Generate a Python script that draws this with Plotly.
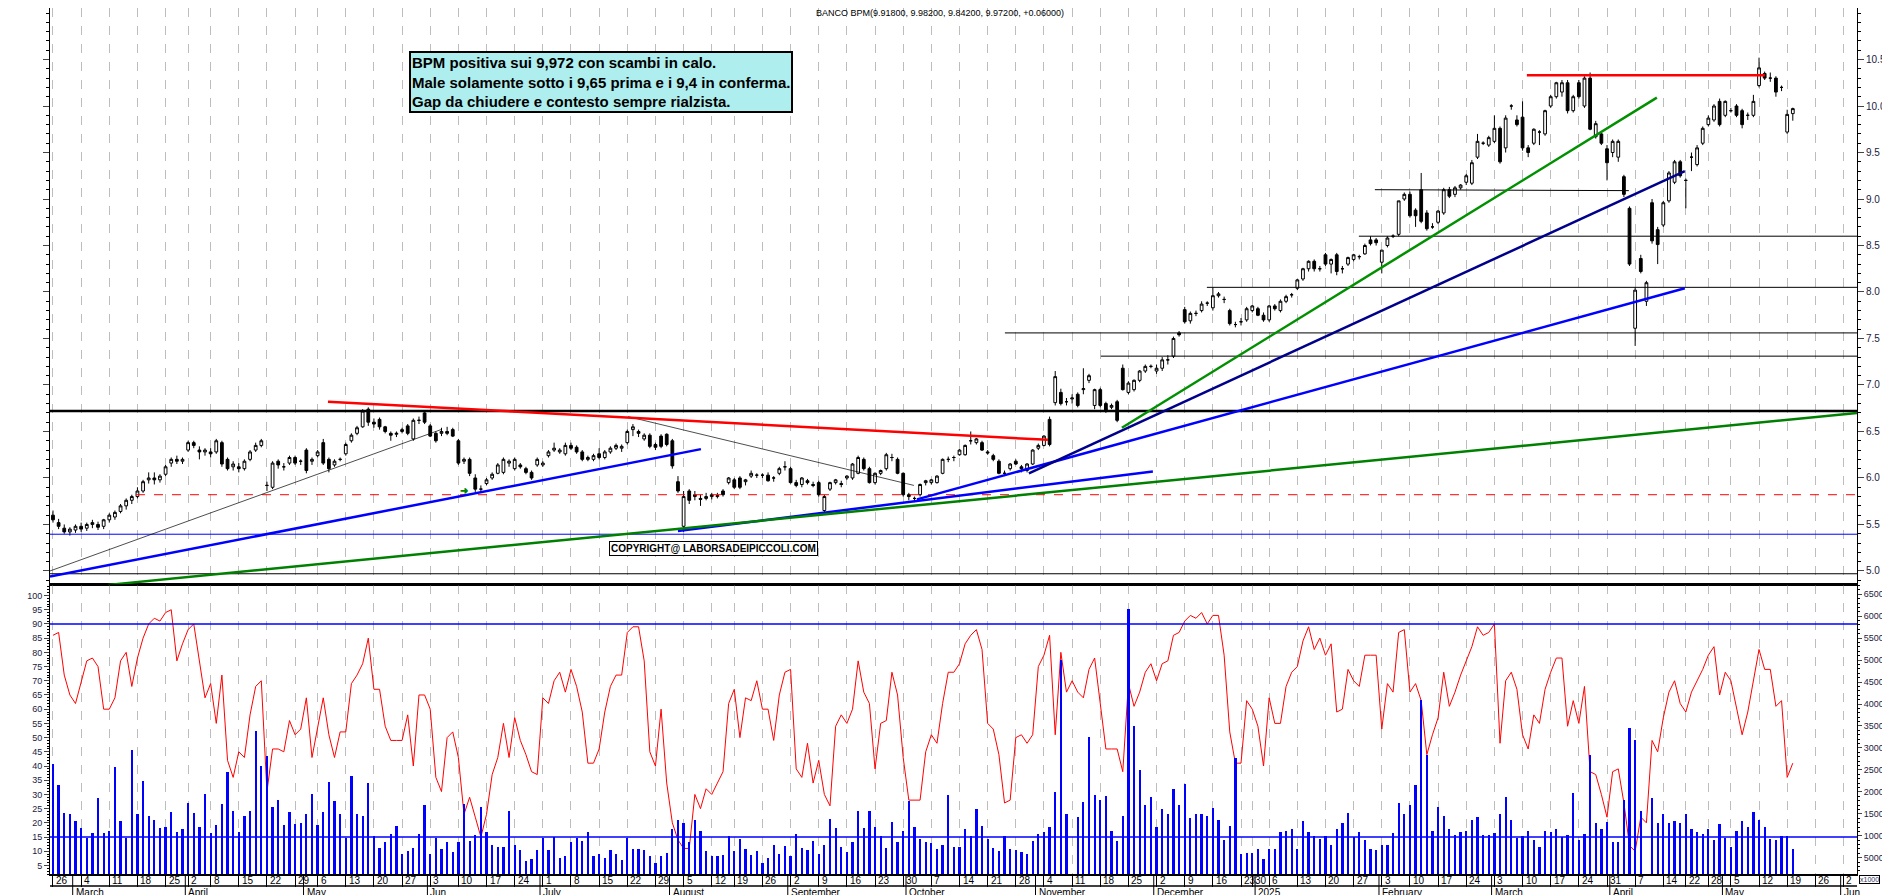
import pandas as pd
import plotly.graph_objects as go

# ---------------- DATA ----------------
opens = [
 5.60,5.52,5.46,5.42,5.44, 5.48,5.46,5.50,5.50,5.48, 5.55,5.58,5.64,5.70,5.76, 5.80,5.86,5.98,6.00,5.98,
 6.04,6.16,6.20,6.18, 6.30,6.38,6.30,6.28, 6.28,6.28,6.38,6.20,6.12, 6.12,6.10,6.20,6.30,6.35,
 5.92,5.90,6.18,6.12,6.16, 6.22,6.18,6.30,6.18, 6.24,6.38,6.20,6.14,6.20, 6.26,6.40,6.48,6.55,6.74,
 6.60,6.63,6.55,6.48,6.47, 6.50,6.56,6.42,6.62,6.70, 6.56,6.48,6.48,6.50,6.52, 6.40,6.18,6.20,6.00,5.88,
 5.94,6.00,6.05,6.06,6.16, 6.10,6.14,6.10,6.06,6.14, 6.14,6.24,6.30,6.28,6.26, 6.35,6.33,6.28,6.20,6.20,
 6.26,6.22,6.28,6.32,6.32, 6.38,6.52,6.50,6.42,6.46, 6.36,6.45,6.47,6.40,5.96, 5.48,5.86,5.80,5.78,5.78,
 5.80,5.80,5.86,5.95, 5.98,6.00,5.96,6.02,6.03, 6.03,6.03,6.00,6.05,6.12, 6.10,5.95,5.93,5.97,5.93,
 5.95,5.65,5.88,5.95,5.94, 6.00,6.00,6.05,6.20,6.10, 5.95,6.05,6.10,6.22,6.20, 6.05,5.82,5.78,5.82,5.95,
 5.95,5.95,6.05,6.20,6.22, 6.25,6.25,6.40,6.38,6.38, 6.28,6.24,6.18,6.05,6.10, 6.18,6.12,6.08,6.15,6.32,
 6.35,6.63,6.81,6.92,6.82, 6.85,6.90,6.95,7.05,6.78, 6.95,6.80,6.76,6.82,7.18, 6.92,6.95,7.05,7.15,7.20,
 7.15, 7.18,7.27,7.31,7.56,7.81, 7.69,7.77,7.80,7.88,7.83, 7.96,7.92,7.80,7.65,7.68, 7.70,7.80,7.82,7.75,7.70,
 7.85,7.80,7.90,7.97,8.04, 8.14,8.25,8.33,8.25,8.40, 8.30,8.40,8.25,8.30,8.35, 8.38,8.41,8.56,8.56,8.32,
 8.50,8.60,8.62,9.00,9.05, 8.88,9.10,8.85,8.70,8.75, 8.85,9.10,9.05,9.12,9.18, 9.17,9.45,9.60,9.58,9.62,
 9.76,9.55,10.00,9.85,9.88, 9.55,9.60,9.72,9.70,10.00, 10.10,10.15,10.25,9.95,10.25, 10.00,10.30,9.67,9.70,9.54,
 9.50,9.45,9.24,8.90,7.61, 8.36,7.90,8.96,8.67,8.72, 8.98,9.18,9.40,9.20,9.45, 9.37,9.60,9.80,9.85,10.05,
 9.90,9.95,10.00,9.95,9.90, 9.90,10.22,10.35,10.30,10.30, 10.20,9.72,9.918]
highs = [
 5.65,5.56,5.50,5.47,5.50, 5.52,5.52,5.55,5.53,5.56, 5.62,5.65,5.72,5.78,5.82, 5.90,5.98,6.06,6.06,6.04,
 6.14,6.22,6.24,6.22, 6.40,6.40,6.34,6.32, 6.32,6.42,6.40,6.22,6.18, 6.16,6.20,6.30,6.38,6.42,
 5.96,6.18,6.20,6.16,6.24, 6.24,6.20,6.32,6.22, 6.30,6.42,6.22,6.20,6.22, 6.38,6.48,6.56,6.74,6.76,
 6.64,6.65,6.56,6.50,6.50, 6.54,6.58,6.64,6.66,6.72, 6.58,6.50,6.54,6.55,6.54, 6.42,6.22,6.22,6.04,5.92,
 6.00,6.06,6.16,6.22,6.20, 6.22,6.16,6.12,6.08,6.22, 6.18,6.30,6.38,6.32,6.38, 6.38,6.35,6.30,6.24,6.26,
 6.32,6.30,6.34,6.37,6.36, 6.52,6.58,6.52,6.48,6.48, 6.38,6.47,6.48,6.42,6.02, 5.86,5.88,5.86,5.82,5.84,
 5.84,5.84,5.88,6.01, 6.00,6.02,5.99,6.08,6.05, 6.05,6.06,6.02,6.12,6.18, 6.12,5.98,6.01,5.99,5.96,
 5.97,5.82,5.96,5.99,5.97, 6.03,6.16,6.24,6.22,6.12, 6.06,6.09,6.27,6.26,6.22, 6.06,5.84,5.80,5.94,5.98,
 5.99,6.03,6.21,6.23,6.24, 6.31,6.36,6.50,6.43,6.40, 6.30,6.26,6.20,6.08,6.16, 6.20,6.14,6.16,6.31,6.37,
 6.46,6.66,7.15,6.96,6.86, 6.90,6.92,7.18,7.12,6.96, 6.97,6.82,6.80,6.84,7.22, 7.04,7.06,7.16,7.22,7.22,
 7.22, 7.30,7.32,7.52,7.58,7.84, 7.79,7.80,7.90,7.90,8.05, 8.00,7.95,7.82,7.68,7.72, 7.84,7.86,7.84,7.78,7.86,
 7.87,7.92,7.97,7.99,8.14, 8.26,8.34,8.35,8.28,8.42, 8.36,8.42,8.28,8.38,8.41, 8.40,8.52,8.60,8.58,8.45,
 8.60,8.62,8.98,9.07,9.08, 8.90,9.28,8.88,8.74,8.88, 9.12,9.13,9.14,9.16,9.27, 9.42,9.70,9.62,9.68,9.90,
 9.78,9.90,10.02,9.90,10.05, 9.58,9.76,9.74,9.96,10.12, 10.26,10.28,10.28,10.12,10.28, 10.32,10.36,9.84,9.72,9.58,
 9.64,9.64,9.26,8.92,8.05, 8.40,8.12,9.00,8.70,8.98, 9.30,9.42,9.42,9.22,9.50, 9.58,9.78,9.90,10.02,10.08,
 10.06,9.98,10.02,9.97,9.93, 10.12,10.52,10.37,10.36,10.32, 10.22,9.96,9.982]
lows = [
 5.52,5.45,5.40,5.38,5.41, 5.42,5.43,5.46,5.44,5.45, 5.52,5.55,5.62,5.66,5.72, 5.78,5.84,5.94,5.93,5.95,
 6.02,6.12,6.15,6.15, 6.28,6.32,6.20,6.24, 6.22,6.26,6.12,6.08,6.08, 6.06,6.08,6.18,6.28,6.33,
 5.86,5.88,6.10,6.08,6.14, 6.14,6.14,6.05,6.14, 6.22,6.14,6.06,6.12,6.18, 6.24,6.38,6.46,6.54,6.56,
 6.54,6.52,6.48,6.40,6.44, 6.48,6.46,6.40,6.58,6.58, 6.44,6.38,6.45,6.46,6.44, 6.14,6.15,6.02,5.85,5.84,
 5.92,5.98,6.04,6.04,6.12, 6.08,6.10,6.04,5.98,6.12, 6.12,6.22,6.28,6.26,6.24, 6.30,6.26,6.18,6.18,6.18,
 6.20,6.20,6.26,6.30,6.28, 6.36,6.45,6.44,6.40,6.32, 6.30,6.32,6.34,6.10,5.84, 5.42,5.72,5.76,5.70,5.76,
 5.77,5.78,5.80,5.93, 5.88,5.88,5.92,6.00,6.00, 6.00,5.96,5.96,6.03,6.08, 5.94,5.90,5.90,5.93,5.90,
 5.80,5.62,5.86,5.93,5.90, 5.98,5.98,6.04,6.08,5.94, 5.93,6.03,6.08,6.18,6.04, 5.80,5.76,5.74,5.80,5.92,
 5.93,5.94,6.04,6.17,6.18, 6.24,6.24,6.36,6.36,6.29, 6.25,6.18,6.04,6.02,6.08, 6.14,6.06,6.06,6.14,6.30,
 6.34,6.34,6.78,6.78,6.78, 6.80,6.76,6.90,7.02,6.74, 6.76,6.70,6.74,6.60,6.94, 6.90,6.93,7.03,7.13,7.18,
 7.12, 7.15,7.22,7.29,7.52,7.66, 7.66,7.74,7.78,7.85,7.80, 7.94,7.88,7.64,7.62,7.64, 7.68,7.78,7.74,7.68,7.68,
 7.80,7.78,7.88,7.94,8.02, 8.12,8.22,8.22,8.22,8.28, 8.20,8.18,8.20,8.28,8.33, 8.35,8.40,8.50,8.50,8.20,
 8.48,8.58,8.60,8.98,8.80, 8.70,8.74,8.66,8.68,8.73, 8.83,9.01,9.02,9.10,9.15, 9.15,9.43,9.58,9.56,9.60,
 9.38,9.50,9.96,9.78,9.52, 9.45,9.58,9.58,9.68,9.98, 10.08,10.10,9.92,9.93,10.08, 9.98,9.74,9.65,9.58,9.20,
 9.45,9.40,9.02,8.28,7.42, 8.20,7.85,8.52,8.30,8.70, 8.96,9.16,9.23,8.90,9.30, 9.35,9.58,9.78,9.83,9.78,
 9.88,9.93,9.88,9.76,9.85, 9.88,10.20,10.28,10.26,10.10, 10.16,9.70,9.842]
closes = [
 5.55,5.48,5.42,5.45,5.48, 5.45,5.50,5.52,5.47,5.55, 5.60,5.63,5.70,5.76,5.80, 5.86,5.96,6.00,5.98,6.02,
 6.12,6.20,6.18,6.20, 6.38,6.35,6.28,6.30, 6.26,6.40,6.15,6.10,6.15, 6.10,6.18,6.28,6.35,6.40,
 5.92,6.16,6.14,6.12,6.22, 6.16,6.18,6.08,6.20, 6.28,6.16,6.10,6.18,6.20, 6.36,6.46,6.54,6.72,6.60,
 6.58,6.55,6.50,6.46,6.48, 6.52,6.48,6.62,6.62,6.60, 6.45,6.40,6.50,6.48,6.45, 6.16,6.20,6.05,5.88,5.88,
 5.98,6.04,6.14,6.20,6.18, 6.20,6.12,6.06,6.00,6.20, 6.16,6.28,6.32,6.30,6.35, 6.32,6.28,6.20,6.22,6.24,
 6.22,6.28,6.32,6.35,6.34, 6.50,6.55,6.48,6.46,6.34, 6.33,6.34,6.36,6.13,5.86, 5.80,5.76,5.82,5.77,5.80,
 5.82,5.81,5.82,6.00, 5.90,5.90,5.98,6.05,6.03, 6.03,5.97,6.00,6.10,6.12, 5.95,5.92,6.00,5.95,5.92,
 5.82,5.80,5.95,5.98,5.93, 6.02,6.15,6.22,6.10,5.95, 6.05,6.08,6.25,6.22,6.05, 5.82,5.80,5.78,5.93,5.97,
 5.98,6.02,6.20,6.20,6.22, 6.30,6.35,6.40,6.42,6.30, 6.27,6.20,6.05,6.05,6.15, 6.15,6.10,6.15,6.30,6.35,
 6.45,6.36,7.09,6.80,6.82, 6.86,6.78,6.96,7.10,6.95, 6.78,6.73,6.78,6.62,6.95, 7.02,7.05,7.15,7.20,7.20,
 7.18, 7.27,7.27,7.50,7.54,7.68, 7.77,7.77,7.87,7.88,7.96, 7.98,7.92,7.66,7.65,7.68, 7.82,7.85,7.75,7.70,7.85,
 7.82,7.90,7.95,7.97,8.13, 8.25,8.33,8.25,8.25,8.30, 8.35,8.22,8.25,8.37,8.40, 8.38,8.50,8.52,8.53,8.45,
 8.58,8.60,8.98,9.05,8.82, 8.82,8.76,8.68,8.70,8.87, 9.10,9.03,9.12,9.15,9.25, 9.39,9.62,9.60,9.66,9.76,
 9.40,9.87,10.00,9.80,9.55, 9.50,9.75,9.72,9.95,10.10, 10.25,10.25,9.95,10.10,10.10, 10.30,9.75,9.81,9.60,9.39,
 9.62,9.62,9.05,8.30,8.02, 8.22,8.10,8.55,8.51,8.96, 9.28,9.40,9.25,9.20,9.45, 9.55,9.76,9.87,10.00,9.80,
 10.05,9.95,9.90,9.80,9.90, 10.05,10.41,10.30,10.30,10.15, 10.20,9.91,9.972]

# oscillator (left scale 0-100)
oscillator = [
 86,87,72,65,62,70,77,78,75,60, 60,64,77,80,68,78,85,90,92,91, 94,95,77,83,88,90,77,64,69,55,
 72,42,36,45,43,58,68,70,31,46, 46,45,56,51,53,64,43,54,64,51, 43,52,52,69,72,76,85,67,67,54,
 49,49,49,58,40,65,65,60,36,31, 50,52,43,23,29,22,15,23,37,43, 55,43,57,49,44,38,37,64,62,70,
 73,66,74,68,59,41,41,46,59,68, 72,72,87,89,89,77,45,40,60,34, 20,14,11,11,30,25,32,30,34,38,
 62,67,50,64,63,70,60,60,49,65, 73,74,39,36,48,34,42,30,26,54, 58,55,60,77,66,62,39,55,56,73,
 65,43,28,28,28,45,51,48,62,73, 73,76,83,86,88,81,55,53,44,27, 28,50,51,48,51,75,79,86,51,80,
 66,70,66,64,74,78,62,46,46,46, 38,69,61,66,73,76,70,76,77,86, 87,91,93,92,94,90,93,93,79,52,
 41,41,63,60,54,40,64,55,55,68, 73,75,84,89,81,85,79,83,59,60, 74,70,68,79,79,79,53,69,66,87,
 88,66,69,63,44,51,57,73,61,66, 72,77,82,89,86,87,90,48,70,73, 67,51,46,58,55,67,73,78,78,54,
 63,55,68,38,37,30,22,38,39,27, 12,10,22,20,49,45,57,66,70,62, 59,66,70,74,79,82,65,73,70,61,
 51,59,70,81,74,74,61,63,36,41]

# volume, millions of shares (axis shown x1000 in thousands)
volume = [
 26.3,21.5,15.3,15.0,13.3,11.7,9.4,10.7,18.5,10.7, 11.0,25.7,13.3,9.4,29.6,15.0,22.4,14.6,13.7,
 11.8,12.1,15.4,10.9,11.6,17.5,15.2,12.0,19.6,10.6, 12.4,17.3,24.5,15.6,10.8,14.5,15.6,33.8,26.0,28.2,
 16.5,18.2,12.4,15.4,12.6,13.0,14.9,19.6,12.4,15.5, 22.3,18.0,14.9,9.6,23.7,15.0,14.5,22.0,10.0,7.3,
 8.6,10.3,12.3,5.8,6.5,7.2,10.3,16.9,5.8,9.5, 6.9,8.6,6.3,8.6,17.2,8.9,10.2,16.5,10.9,7.8,
 7.4,7.4,15.6,7.8,6.8,4.2,4.7,6.7,9.6,6.7, 9.7,5.0,5.5,8.5,9.6,8.8,10.9,5.5,5.9,5.0,
 6.7,5.9,4.4,9.6,6.9,7.0,6.7,5.4,3.8,5.5, 6.1,11.6,13.7,12.8,8.5,13.7,11.1,6.5,5.4,5.5,
 5.7,10.0,6.5,9.3,7.0,5.7,6.5,3.9,5.0,7.8, 5.8,7.7,5.5,10.5,7.3,6.7,8.9,5.9,8.0,13.9,
 11.8,7.4,6.3,8.6,15.6,11.8,15.7,12.1,9.9,7.3, 13.2,8.7,11.2,17.9,12.1,9.3,8.6,8.4,7.1,7.8,
 19.4,7.4,7.4,11.6,10.0,16.1,12.2,9.3,7.3,6.5, 10.0,
 7.1,6.7,6.3,5.9,8.8,10.5,10.9,12.0,20.0,50.1, 15.0,1.0,14.3,17.8,32.6,19.4,18.2,19.0,11.1,8.8,
 14.5,61.6,35.0,24.9,16.9,18.8,12.1,16.2,15.0,20.7, 16.9,21.9,14.0,14.9,14.9,14.6,16.4,13.7,9.1,12.2,
 27.6,5.8,6.1,6.1,6.9,4.8,7.1,6.9,10.9,11.2, 11.6,6.9,13.3,10.9,10.0,9.3,10.0,7.8,11.5,12.9,
 15.3,9.7,10.9,9.1,7.1,6.7,7.8,7.8,10.7,17.5, 15.0,16.9,21.5,41.0,28.3,11.2,16.5,14.6,11.6,10.1,
 10.9,11.2,13.5,14.3,10.1,10.1,10.7,15.0,18.8,13.7, 9.5,10.0,11.1,9.0,7.4,11.1,10.9,11.6,9.7,10.1,
 19.8,9.0,10.3,28.5,12.8,11.6,13.1,8.6,8.7,18.2, 34.6,31.7,15.6,1.0,18.6,13.0,15.0,12.9,13.4,12.8,
 15.0,11.6,10.9,10.3,11.6,9.1,12.6,9.6,7.4,11.1, 13.3,12.1,15.4,13.7,12.0,9.3,9.0,10.0,10.0,6.9]

price_ticks = [5.0, 5.5, 6.0, 6.5, 7.0, 7.5, 8.0, 8.5, 9.0, 9.5, 10.0, 10.5]
osc_ticks = list(range(5, 101, 5))
vol_ticks = list(range(5, 66, 5))
vol_tick_text = [f"{v*1000}" for v in vol_ticks]

holidays = ['2024-03-29', '2024-04-01', '2024-05-01', '2024-08-15', '2024-12-24', '2024-12-25',
            '2024-12-26', '2024-12-31', '2025-01-01', '2025-04-18', '2025-04-21', '2025-05-01']
month_names = {1: "2025", 2: "February", 3: "March", 4: "April", 5: "May", 6: "Jun", 7: "July",
               8: "August", 9: "September", 10: "October", 11: "November", 12: "December"}

title_text = "BANCO BPM(9.91800, 9.98200, 9.84200, 9.97200, +0.06000)"
box_text = ("<b>BPM positiva sui 9,972 con scambi in calo.<br>"
            "Male solamente sotto i 9,65 prima e i 9,4 in conferma.<br>"
            "Gap da chiudere e contesto sempre rialzista.</b>")

# ---------------- BUILD ----------------
days = [d for d in pd.bdate_range('2024-02-26', '2025-06-06') if d.strftime('%Y-%m-%d') not in holidays]
XMIN, XMAX = -0.53, 320.4
n = len(closes)
xi = list(range(n))

PH = 866  # plot area height in px
SPLIT = (PH - 577) / PH
FONT = "Liberation Sans, Arial, sans-serif"
fig = go.Figure()

fig.add_trace(go.Candlestick(
    x=xi, open=opens, high=highs, low=lows, close=closes,
    increasing=dict(fillcolor="white", line=dict(color="black", width=1)),
    decreasing=dict(fillcolor="black", line=dict(color="black", width=1)),
    whiskerwidth=0, xaxis="x", yaxis="y", showlegend=False, hoverinfo="skip"))

fig.add_trace(go.Bar(x=list(range(len(volume))), y=volume, marker_color="#0000FF",
                     marker_line_width=0, width=0.4, xaxis="x2", yaxis="y3",
                     showlegend=False, hoverinfo="skip"))
fig.add_trace(go.Scatter(x=list(range(len(oscillator))), y=oscillator, mode="lines",
                         line=dict(color="#FF0000", width=1), xaxis="x2", yaxis="y2",
                         showlegend=False, hoverinfo="skip"))

week_ticks, month_starts = [], []
for i, d in enumerate(days):
    if i > XMAX:
        break
    if i == 0 or d.isocalendar()[1] != days[i - 1].isocalendar()[1]:
        week_ticks.append(i)
    if i > 0 and d.month != days[i - 1].month:
        month_starts.append(i)

grid = dict(showgrid=True, gridcolor="#BDBDBD", griddash="dash", gridwidth=1)
tfont = dict(size=9, color="#1a1a40", family=FONT)
fig.update_layout(
    width=1890, height=895, margin=dict(l=42, r=41, t=0, b=895 - PH),
    paper_bgcolor="white", plot_bgcolor="white", bargap=0,
    font=dict(family=FONT, size=10, color="#1a1a40"),
    xaxis=dict(domain=[0, 1], anchor="y", range=[XMIN, XMAX], tickvals=week_ticks,
               showticklabels=False, ticks="", showline=True, linecolor="black", linewidth=1,
               mirror=True, zeroline=False, rangeslider=dict(visible=False), **grid),
    xaxis2=dict(domain=[0, 1], anchor="y2", range=[XMIN, XMAX], tickvals=week_ticks,
                ticktext=[""] * len(week_ticks), ticks="outside", ticklen=11, tickcolor="black",
                showline=True, linecolor="black", linewidth=1.5, mirror=True, zeroline=False, **grid),
    yaxis=dict(domain=[SPLIT, 1], anchor="x", range=[4.849, 11.054], side="right",
               tickvals=price_ticks, tickformat=".1f", ticks="outside", ticklen=6,
               minor=dict(dtick=0.1, ticks="outside", ticklen=3, tickcolor="black"),
               showline=True, linecolor="black", mirror="ticks", showgrid=False, zeroline=False,
               tickfont=dict(size=10, color="#1a1a40", family=FONT)),
    yaxis2=dict(domain=[0, SPLIT], anchor="x2", range=[2.0, 103.7], side="left",
                tickvals=osc_ticks, ticks="outside", ticklen=5,
                minor=dict(dtick=1, ticks="outside", ticklen=2, tickcolor="black"),
                showline=True, linecolor="black", showgrid=False, zeroline=False,
                tickfont=tfont),
    yaxis3=dict(overlaying="y2", anchor="x2", side="right", range=[1.3, 67.1],
                tickvals=vol_ticks, ticktext=vol_tick_text, ticks="outside", ticklen=4,
                minor=dict(dtick=1, ticks="outside", ticklen=2, tickcolor="black"),
                showline=True, linecolor="black", showgrid=False, zeroline=False,
                tickfont=tfont),
)

def px2i(px):
    return (px - 45) / 5.631

shapes = []
def seg(x0, y0, x1, y1, color, width, dash="solid"):
    shapes.append(dict(type="line", xref="x", yref="y", x0=x0, y0=y0, x1=x1, y1=y1,
                       line=dict(color=color, width=width, dash=dash)))

seg(XMIN, 6.72, XMAX, 6.72, "black", 2.5)
seg(px2i(128), 5.82, XMAX, 5.82, "#FF0000", 1, "dash")
seg(XMIN, 5.395, XMAX, 5.395, "#0000FF", 1)
seg(XMIN, 4.97, XMAX, 4.97, "black", 1)
seg(px2i(997), 7.56, XMAX, 7.56, "black", 1)
seg(px2i(1093), 7.31, XMAX, 7.31, "black", 1)
seg(px2i(1199), 8.05, XMAX, 8.05, "black", 1)
seg(px2i(1351), 8.60, XMAX, 8.60, "black", 1)
seg(px2i(1367), 9.10, px2i(1621), 9.09, "black", 1)
seg(px2i(1519), 10.33, px2i(1757), 10.33, "#FF0000", 2.5)
seg(XMIN, 5.00, px2i(433), 6.52, "black", 0.7)
seg(px2i(620), 6.66, px2i(906), 5.92, "black", 0.7)
seg(px2i(320), 6.82, px2i(1040), 6.41, "#FF0000", 2.5)
seg(XMIN, 4.94, px2i(693), 6.31, "#0000FF", 2.5)
seg(px2i(670), 5.43, px2i(1145), 6.07, "#0000FF", 2.5)
seg(px2i(100), 4.85, XMAX, 6.70, "#008000", 2.5)
seg(px2i(909), 5.77, px2i(1677), 8.04, "#0000FF", 2.5)
seg(px2i(1021), 6.05, px2i(1677), 9.30, "#00008B", 2.5)
seg(px2i(1114), 6.54, px2i(1649), 10.09, "#009000", 2.5)

for lv in (90, 15):
    shapes.append(dict(type="line", xref="paper", yref="y2", x0=0, x1=1, y0=lv, y1=lv,
                       line=dict(color="#0000FF", width=1.5)))
shapes.append(dict(type="line", xref="paper", yref="paper", x0=0, x1=1, y0=SPLIT, y1=SPLIT,
                   line=dict(color="black", width=1.5)))
row_y = -12 / PH
shapes.append(dict(type="line", xref="paper", yref="paper", x0=0, x1=1, y0=row_y, y1=row_y,
                   line=dict(color="black", width=1.5)))
for m in month_starts:
    shapes.append(dict(type="line", xref="x2", yref="paper", x0=m - 0.5, x1=m - 0.5,
                       y0=0, y1=-(895 - PH) / PH, line=dict(color="black", width=1)))

annotations = []
for i in week_ticks:
    annotations.append(dict(x=i, y=0, xref="x2", yref="paper", text=str(days[i].day),
                            showarrow=False, xanchor="left", yanchor="top", xshift=1, yshift=1,
                            font=dict(size=10, color="black", family=FONT)))
for m in month_starts:
    annotations.append(dict(x=m - 0.5, y=row_y, xref="x2", yref="paper",
                            text=month_names[days[m].month], showarrow=False,
                            xanchor="left", yanchor="top", xshift=1, yshift=1,
                            font=dict(size=10, color="black", family=FONT)))
annotations.append(dict(x=px2i(806), y=11.0, xref="x", yref="y", text=title_text, showarrow=False,
                        xanchor="left", yanchor="middle", font=dict(size=9, color="black", family=FONT)))
annotations.append(dict(x=px2i(401), y=10.59, xref="x", yref="y", text=box_text, showarrow=False,
                        xanchor="left", yanchor="top", align="left", bgcolor="#AFEEEE",
                        bordercolor="black", borderwidth=2, borderpad=1,
                        font=dict(size=15, color="black", family=FONT)))
annotations.append(dict(x=px2i(706), y=5.245, xref="x", yref="y",
                        text="<b>COPYRIGHT@ LABORSADEIPICCOLI.COM</b>", showarrow=False,
                        bgcolor="white", bordercolor="black", borderwidth=1, borderpad=1,
                        font=dict(size=10, color="black", family=FONT)))
annotations.append(dict(x=px2i(456), y=5.86, xref="x", yref="y", text="<b>➜</b>", showarrow=False,
                        font=dict(size=10, color="#008000")))
annotations.append(dict(x=1.0, y=-1 / PH, xref="paper", yref="paper", text="x1000", showarrow=False,
                        xanchor="left", yanchor="top", xshift=2, bordercolor="black", borderwidth=1,
                        borderpad=0, font=dict(size=7, color="#333366")))

fig.update_layout(shapes=shapes, annotations=annotations)
fig.write_html("out.html")
